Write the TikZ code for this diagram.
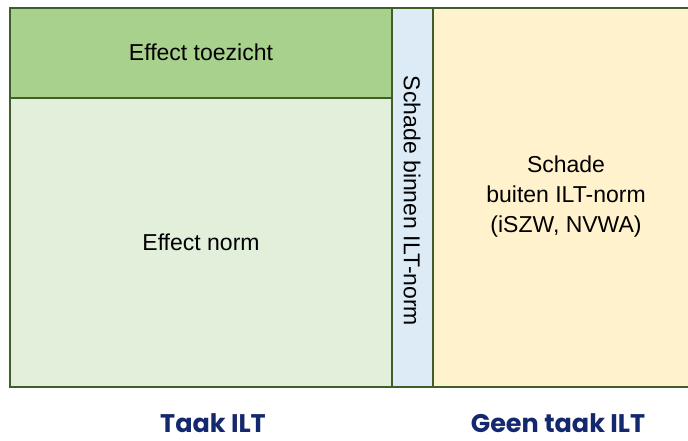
\documentclass[tikz,border=0pt]{standalone}
\usepackage{fontspec}
\setmainfont{Liberation Sans}
\newfontfamily\titlefont{Poppins}
\definecolor{edge}{HTML}{3F5F2A}
\definecolor{topgreen}{HTML}{A9D18E}
\definecolor{lightgreen}{HTML}{E2EFDA}
\definecolor{lightblue}{HTML}{DDEBF7}
\definecolor{lightyellow}{HTML}{FFF2CC}
\definecolor{navy}{HTML}{14286E}
\begin{document}
\begin{tikzpicture}[x=1pt,y=-1pt,
  cell/.style={draw=edge,line width=2pt},
  celltext/.style={font=\fontsize{23}{30}\selectfont,align=center,inner sep=0pt},
  foot/.style={font=\titlefont\bfseries\fontsize{25.5}{30}\selectfont,text=navy,inner sep=0pt,anchor=base}]
\useasboundingbox (0,0) rectangle (688,441);
\fill[lightyellow] (433,8) rectangle (692,387);
\draw[cell] (433,8) -- (692,8);
\draw[cell] (433,387) -- (692,387);
\draw[cell,fill=topgreen] (10,8) rectangle (392,98);
\draw[cell,fill=lightgreen] (10,98) rectangle (392,387);
\draw[cell,fill=lightblue] (392,8) rectangle (433,387);
\node[celltext] (toezicht) at (201,52) {Effect toezicht};
\node[celltext] (norm) at (201,242) {Effect norm};
\node[celltext,rotate=-90] (binnen) at (412,201) {Schade binnen ILT-norm};
\node[celltext] (buiten) at (566,197) {Schade\\buiten ILT-norm\\(iSZW, NVWA)};
\node[foot] (taak) at (213,432) {Taak ILT};
\node[foot] (geen) at (558,432) {Geen taak ILT};
\end{tikzpicture}
\end{document}
